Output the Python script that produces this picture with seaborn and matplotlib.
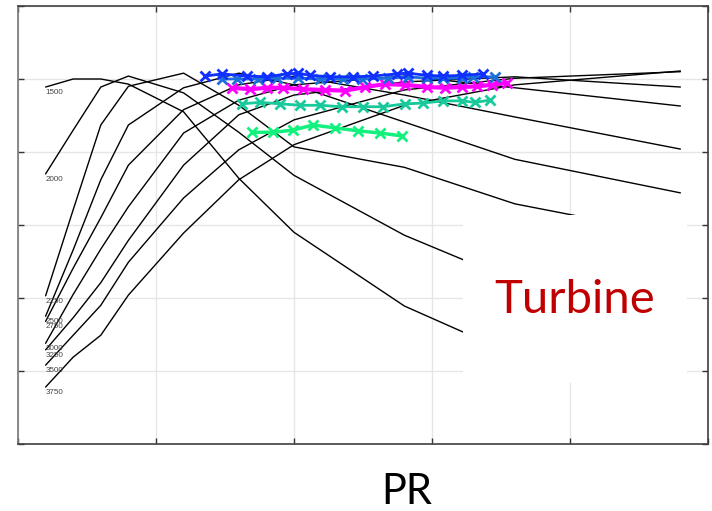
import matplotlib
matplotlib.use("Agg")
import matplotlib.pyplot as plt
from matplotlib.patches import Rectangle
import pandas as pd
import seaborn as sns

# ---- speed lines (black), common PR grid ----
pr_grid = [0.2, 0.4, 0.6, 0.8, 1.2, 1.6, 2.0, 2.8, 3.6, 4.8]
speed_labels = ["1500", "2000", "2250", "2500", "2750", "3000", "3250", "3500", "3750"]
line_1500 = [4.89, 5.00, 5.00, 4.93, 4.55, 3.64, 2.90, 1.89, 1.22]
line_2000 = [3.70, 4.30, 4.89, 5.04, 4.81, 4.27, 3.68, 2.86, 2.23, 1.56]
line_2250 = [2.03, 3.21, 4.37, 4.90, 5.08, 4.64, 4.07, 3.79, 3.29, 2.85]
line_2500 = [1.75, 2.66, 3.62, 4.37, 4.88, 5.08, 4.92, 4.41, 3.90, 3.44]
line_2750 = [1.68, 2.41, 3.10, 3.82, 4.58, 4.92, 5.04, 4.78, 4.48, 4.04]
line_3000 = [1.38, 2.05, 2.67, 3.25, 4.26, 4.71, 4.92, 5.04, 4.88, 4.63]
line_3250 = [1.29, 1.73, 2.21, 2.79, 3.82, 4.51, 4.78, 4.96, 5.03, 4.89]
line_3500 = [1.08, 1.49, 1.90, 2.49, 3.37, 4.03, 4.44, 4.85, 5.01, 5.10]
line_3750 = [0.78, 1.19, 1.49, 2.04, 2.89, 3.62, 4.10, 4.64, 4.92, 5.11]
speed_lines = [line_1500, line_2000, line_2250, line_2500, line_2750,
               line_3000, line_3250, line_3500, line_3750]

# ---- operating-point series (x markers) ----
blueA_x = [1.355, 1.478, 1.659, 1.804, 1.949, 2.029, 2.116, 2.261, 2.428, 2.572,
           2.746, 2.826, 2.964, 3.080, 3.217, 3.370]
blueA_y = [5.04, 5.07, 5.04, 5.03, 5.07, 5.08, 5.05, 5.03, 5.03, 5.04,
           5.07, 5.08, 5.05, 5.04, 5.05, 5.07]
blueB_x = [1.478, 1.587, 1.739, 1.877, 2.029, 2.188, 2.355, 2.493, 2.681, 2.826,
           2.964, 3.080, 3.217, 3.297, 3.457]
blueB_y = [5.00, 5.00, 5.00, 5.01, 5.01, 5.00, 5.00, 5.00, 5.01, 5.03,
           5.01, 5.01, 5.01, 5.03, 5.03]
magenta_x = [1.551, 1.681, 1.804, 1.920, 2.065, 2.225, 2.370, 2.514, 2.659, 2.804,
             2.964, 3.094, 3.217, 3.326, 3.435, 3.543]
magenta_y = [4.88, 4.86, 4.88, 4.88, 4.86, 4.85, 4.84, 4.89, 4.93, 4.92,
             4.89, 4.88, 4.89, 4.90, 4.92, 4.95]
teal_x = [1.623, 1.754, 1.899, 2.043, 2.188, 2.348, 2.500, 2.645, 2.804, 2.935,
          3.080, 3.217, 3.312, 3.420]
teal_y = [4.66, 4.68, 4.66, 4.64, 4.64, 4.62, 4.62, 4.62, 4.66, 4.67,
          4.70, 4.70, 4.68, 4.71]
green_x = [1.696, 1.848, 1.993, 2.138, 2.297, 2.464, 2.623, 2.783]
green_y = [4.27, 4.27, 4.30, 4.37, 4.33, 4.29, 4.26, 4.22]

series = [
    (teal_x, teal_y, "#17c99b", 2.0),
    (green_x, green_y, "#12f07e", 2.5),
    (magenta_x, magenta_y, "#ff00ff", 3.0),
    (blueB_x, blueB_y, "#1c6fd8", 2.0),
    (blueA_x, blueA_y, "#1030ff", 2.0),
]

sns.set_style("white")
plt.rcParams["font.family"] = ["Lato", "DejaVu Sans"]

fig = plt.figure(figsize=(7.12, 5.11), dpi=100)
ax = fig.add_axes([18 / 712, 1 - 444 / 511, 690 / 712, 438 / 511])

rows = []
for lab, vals in zip(speed_labels, speed_lines):
    for x, y in zip(pr_grid, vals):
        rows.append({"speed": lab, "pr": x, "val": y})
df = pd.DataFrame(rows)
sns.lineplot(data=df, x="pr", y="val", units="speed", estimator=None, sort=False,
             color="black", lw=1.0, ax=ax, zorder=2)

for lab, vals in zip(speed_labels, speed_lines):
    ax.text(pr_grid[0], vals[0] - 0.075, lab, fontsize=5.8, color="#444444",
            ha="left", va="center", family=["Liberation Sans", "DejaVu Sans"], zorder=3)

for xs, ys, col, lw in series:
    sns.lineplot(x=xs, y=ys, color=col, lw=lw, marker="x", markersize=7,
                 markeredgewidth=2, markeredgecolor=col, sort=False,
                 estimator=None, ax=ax, zorder=3)

# white label box
ax.add_patch(Rectangle((3.225, 0.84), 1.623, 2.30, facecolor="white",
                       edgecolor="none", zorder=4))
ax.text(4.036, 1.97, "Turbine", fontsize=34, color="#c00000", ha="center",
        va="center", zorder=5)

ax.set_xlim(0, 5)
ax.set_ylim(0, 6)
ax.set_xticks(range(6))
ax.set_yticks(range(7))
ax.set_xticklabels([])
ax.set_yticklabels([])
ax.set_xlabel("")
ax.set_ylabel("")
ax.grid(True, color="#e6e6e6", lw=1.0)
ax.set_axisbelow(True)
ax.tick_params(direction="in", length=4, width=1, color="#333333",
               top=True, right=True, bottom=True, left=True)
for s in ax.spines.values():
    s.set_visible(True)
    s.set_color("#404040")
    s.set_linewidth(1.2)
ax.spines["left"].set_color("#777777")

fig.text(407 / 712, 1 - 492 / 511, "PR", fontsize=30, color="black",
         ha="center", va="center")

fig.savefig("out.png", dpi=100)
